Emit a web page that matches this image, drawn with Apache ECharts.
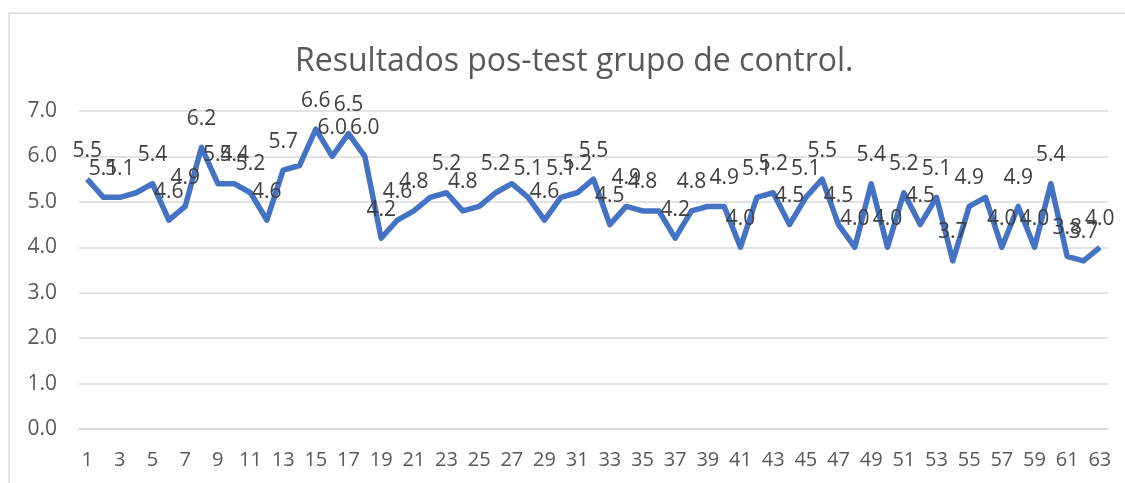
<!DOCTYPE html>
<html>
<head>
<meta charset="utf-8">
<script src="https://cdn.jsdelivr.net/npm/echarts@6/dist/echarts.min.js"></script>
<style>html,body{margin:0;padding:0;background:#fff;}#c{width:1125px;height:483px;}</style>
</head>
<body>
<div id="c"></div>
<script>
const titleText = "Resultados pos-test grupo de control.";
const categories = [];
for (let i = 1; i <= 63; i++) categories.push(String(i));
const values = [5.5,5.1,5.1,5.2,5.4,4.6,4.9,6.2,5.4,5.4,5.2,4.6,5.7,5.8,6.6,6.0,6.5,6.0,4.2,4.6,4.8,5.1,5.2,4.8,4.9,5.2,5.4,5.1,4.6,5.1,5.2,5.5,4.5,4.9,4.8,4.8,4.2,4.8,4.9,4.9,4.0,5.1,5.2,4.5,5.1,5.5,4.5,4.0,5.4,4.0,5.2,4.5,5.1,3.7,4.9,5.1,4.0,4.9,4.0,5.4,3.8,3.7,4.0];
const hiddenLabels = [4,14,22,25,27,36,39,56];
const yMin = 0, yMax = 7, yStep = 1;

const seriesData = values.map((v, i) => hiddenLabels.includes(i + 1) ? {value: v, label: {show: false}} : v);

const chart = echarts.init(document.getElementById('c'), null, {renderer: 'canvas'});
chart.setOption({
  animation: false,
  backgroundColor: '#ffffff',
  title: {
    text: titleText,
    left: 290,
    top: 41,
    textStyle: {fontFamily: 'Open Sans', fontSize: 32, fontWeight: 'normal', color: '#595959'}
  },
  graphic: [{
    type: 'rect',
    shape: {x: 9, y: 13, width: 1130, height: 490},
    style: {fill: 'none', stroke: '#d9d9d9', lineWidth: 1.5},
    silent: true, z: -1
  }],
  grid: {left: 79, right: 17, top: 111, bottom: 54},
  xAxis: {
    type: 'category',
    data: categories,
    boundaryGap: true,
    axisLine: {show: true, lineStyle: {color: '#d9d9d9', width: 1.5}},
    axisTick: {show: false},
    axisLabel: {interval: 1, margin: 21, fontFamily: 'Open Sans', fontSize: 20, color: '#595959'}
  },
  yAxis: {
    type: 'value',
    min: yMin, max: yMax, interval: yStep,
    axisLine: {show: false},
    axisTick: {show: false},
    splitLine: {lineStyle: {color: '#d9d9d9', width: 1.5}},
    axisLabel: {margin: 22, fontFamily: 'Open Sans', fontSize: 21, color: '#595959', formatter: v => v.toFixed(1)}
  },
  series: [{
    type: 'line',
    data: seriesData,
    symbol: 'circle',
    symbolSize: 2,
    showSymbol: true,
    itemStyle: {color: 'rgba(0,0,0,0)'},
    lineStyle: {color: '#4472C4', width: 5.5, join: 'round'},
    label: {
      show: true,
      position: 'top',
      distance: 17,
      fontFamily: 'Open Sans',
      fontSize: 21,
      color: '#404040',
      formatter: p => Number(p.value).toFixed(1)
    }
  }]
});
</script>
</body>
</html>
